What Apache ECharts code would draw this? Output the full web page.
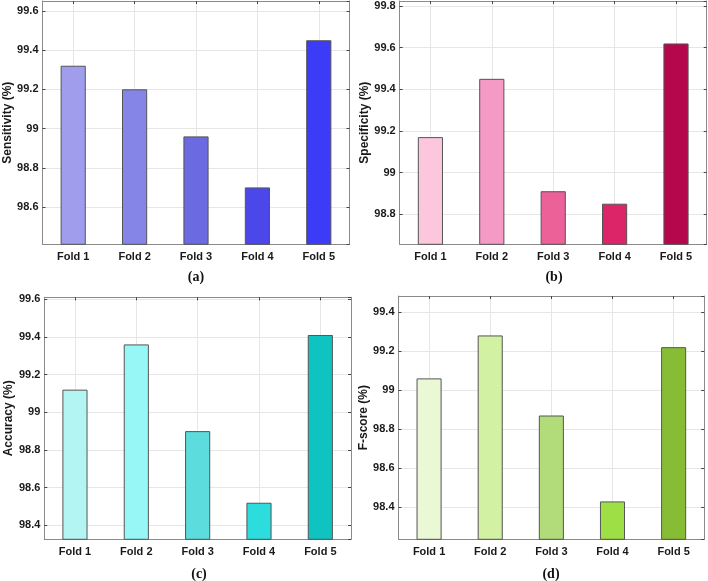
<!DOCTYPE html>
<html>
<head>
<meta charset="utf-8">
<script src="https://cdn.jsdelivr.net/npm/echarts@6/dist/echarts.min.js"></script>
<style>
html,body{margin:0;padding:0;background:#fff;}
#chart{width:708px;height:581px;}
</style>
</head>
<body>
<div id="chart"></div>
<script>
const categories = ['Fold 1', 'Fold 2', 'Fold 3', 'Fold 4', 'Fold 5'];
const sensitivity = [99.32, 99.20, 98.96, 98.70, 99.45];
const specificity = [99.17, 99.45, 98.91, 98.85, 99.62];
const accuracy = [99.12, 99.36, 98.90, 98.52, 99.41];
const fscore = [99.06, 99.28, 98.87, 98.43, 99.22];
const yTitles = ['Sensitivity (%)', 'Specificity (%)', 'Accuracy (%)', 'F-score (%)'];
const panelLabels = ['(a)', '(b)', '(c)', '(d)'];
const yMins = [98.41, 98.655, 98.326, 98.236];
const yMaxs = [99.65, 99.824, 99.61, 99.482];

const palettes = [
  ['#a09ded', '#8585e8', '#6b6ae0', '#4b47e8', '#3c3cf8'],
  ['#fcc6dd', '#f59ac4', '#ec6198', '#dc2468', '#b5074b'],
  ['#b3f5f3', '#97f7f7', '#5cdcdc', '#2ddcdc', '#0fc3c0'],
  ['#eaf8d6', '#d3f1a2', '#b2dc7a', '#9ddf45', '#86bd35']
];
const grids = [
  {left: 42.5, top: 1, width: 307, height: 243.3},
  {left: 399.7, top: 1, width: 307, height: 243.3},
  {left: 44.3, top: 297.3, width: 306.7, height: 242},
  {left: 398.5, top: 296, width: 305.7, height: 243.3}
];
const labelPos = [[196, 270], [554, 270], [199, 567], [551, 567]];

const seriesData = [sensitivity, specificity, accuracy, fscore];
const FONT = "'Liberation Sans', Arial, sans-serif";
const axisCol = '#8a8a8a';
const gridCol = '#e6e6e6';

const option = {
  backgroundColor: '#fff',
  animation: false,
  grid: grids.map(g => Object.assign({containLabel: false}, g)),
  title: panelLabels.map((t, i) => ({
    text: t, left: labelPos[i][0], top: labelPos[i][1], textAlign: 'center', padding: 0,
    textStyle: {fontFamily: "'Liberation Serif', 'Times New Roman', serif", fontWeight: 'bold', fontSize: 14, color: '#111'}
  })),
  xAxis: [],
  yAxis: [],
  series: []
};

for (let i = 0; i < 4; i++) {
  option.xAxis.push({
    type: 'category', gridIndex: i, data: categories, position: 'bottom',
    axisLine: {show: true, lineStyle: {color: axisCol, width: 1}},
    axisTick: {show: true, inside: true, alignWithLabel: true, length: 3, lineStyle: {color: '#444'}},
    axisLabel: {fontFamily: FONT, fontWeight: 'bold', fontSize: 11, color: '#1a1a1a', margin: 7},
    splitLine: {show: true, alignWithLabel: true, lineStyle: {color: gridCol, width: 1}}
  });
  option.xAxis.push({
    type: 'category', gridIndex: i, data: categories, position: 'top',
    axisLine: {show: true, lineStyle: {color: axisCol, width: 1}},
    axisTick: {show: true, inside: true, alignWithLabel: true, length: 3, lineStyle: {color: '#444'}},
    axisLabel: {show: false},
    splitLine: {show: false}
  });
  const yCommon = {
    type: 'value', gridIndex: i, min: yMins[i], max: yMaxs[i],
    splitNumber: 6, minInterval: 0.2, maxInterval: 0.2, scale: true
  };
  option.yAxis.push(Object.assign({}, yCommon, {
    position: 'left',
    name: yTitles[i], nameLocation: 'middle', nameGap: 29,
    nameTextStyle: {fontFamily: FONT, fontWeight: 'bold', fontSize: 12, color: '#1a1a1a'},
    axisLine: {show: true, lineStyle: {color: axisCol, width: 1}},
    axisTick: {show: true, inside: true, length: 3, lineStyle: {color: '#444'}},
    axisLabel: {fontFamily: FONT, fontWeight: 'bold', fontSize: 11, color: '#1a1a1a', margin: 4,
      showMinLabel: false, showMaxLabel: false,
      formatter: v => (Math.round(v * 10) / 10).toString()},
    splitLine: {show: true, lineStyle: {color: gridCol, width: 1}}
  }));
  option.yAxis.push(Object.assign({}, yCommon, {
    position: 'right',
    axisLine: {show: true, lineStyle: {color: axisCol, width: 1}},
    axisTick: {show: true, inside: true, length: 3, lineStyle: {color: '#444'}},
    axisLabel: {show: false},
    splitLine: {show: false}
  }));
  option.series.push({
    type: 'bar', xAxisIndex: 2 * i, yAxisIndex: 2 * i, barWidth: '41%',
    data: seriesData[i].map((v, k) => ({
      value: v,
      itemStyle: {color: palettes[i][k], borderColor: '#555', borderWidth: 1}
    }))
  });
}

const chart = echarts.init(document.getElementById('chart'), null, {renderer: 'canvas'});
chart.setOption(option);
</script>
</body>
</html>
